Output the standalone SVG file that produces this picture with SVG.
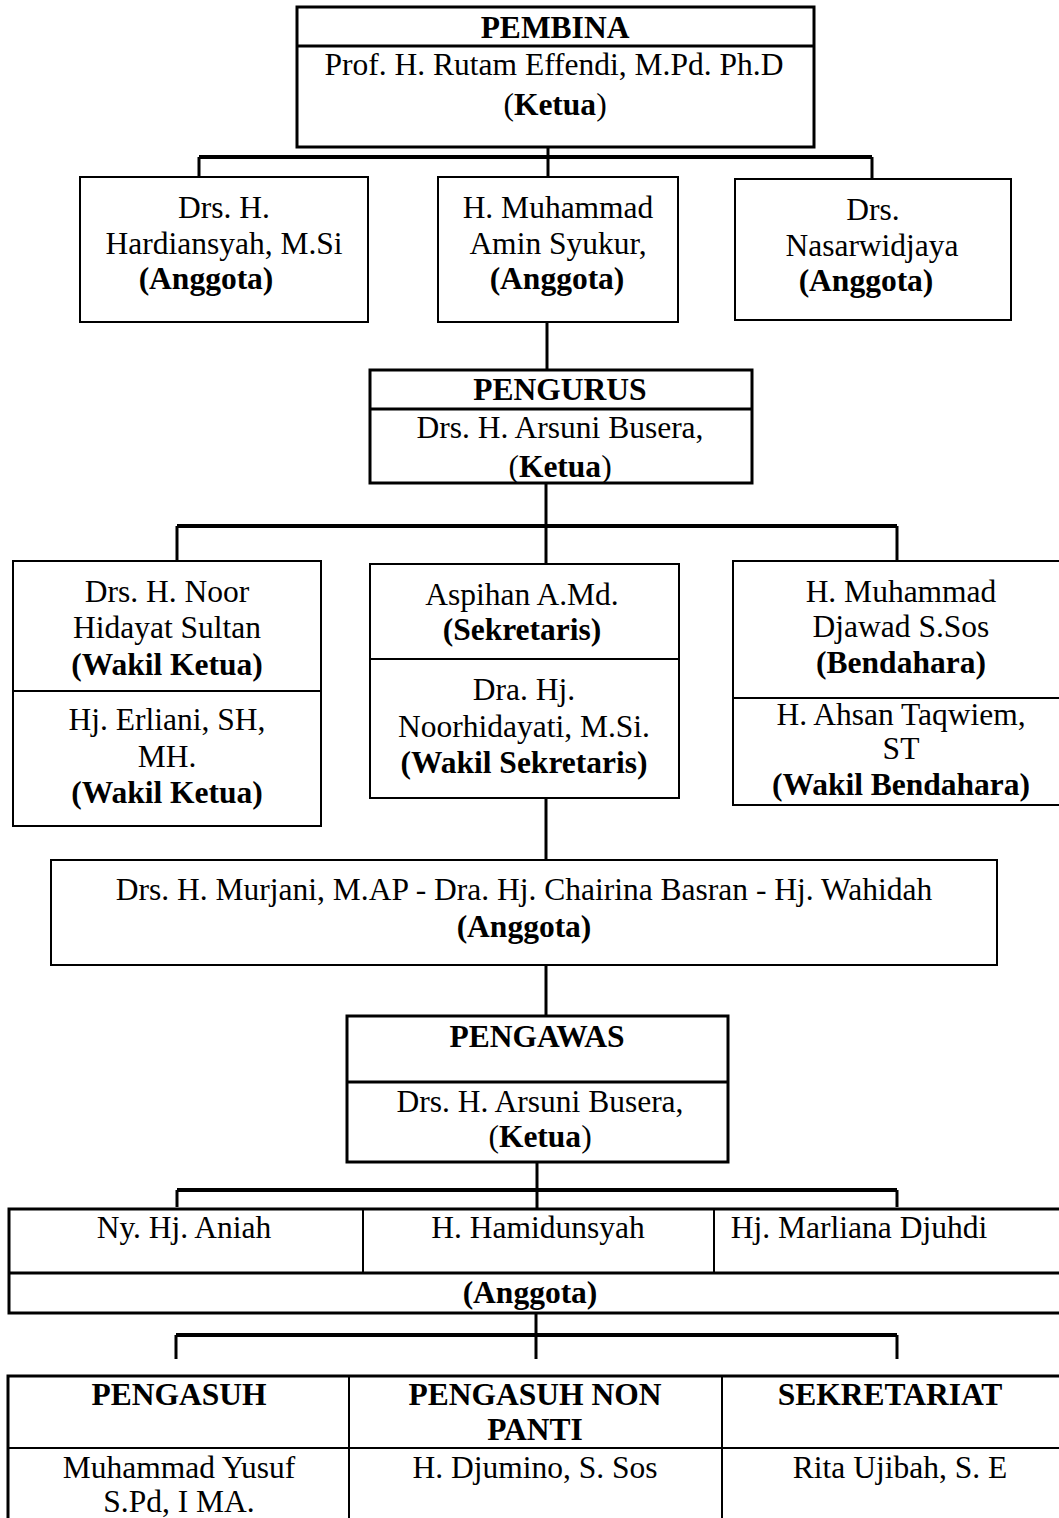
<svg xmlns="http://www.w3.org/2000/svg" width="1059" height="1518" viewBox="0 0 1059 1518">
<style>
text{font-family:"Liberation Serif","Times New Roman",serif;font-size:31.5px;fill:#000;text-anchor:middle}
.b{font-weight:bold}
.box{fill:#fff;stroke:#000;stroke-width:2}
.tk{fill:#fff;stroke:#000;stroke-width:3}
.dv{stroke:#000;stroke-width:2;fill:none}
.dv3{stroke:#000;stroke-width:3;fill:none}
.ln{stroke:#000;stroke-width:3;fill:none}
.bar{stroke:#000;stroke-width:4;fill:none}
</style>
<rect width="1059" height="1518" fill="#fff"/>
<g id="connectors">
<line class="ln" x1="548" y1="147" x2="548" y2="177"/>
<line class="bar" x1="199" y1="157" x2="872" y2="157"/>
<line class="ln" x1="199" y1="157" x2="199" y2="177"/>
<line class="ln" x1="872" y1="157" x2="872" y2="179"/>
<line class="ln" x1="547" y1="322" x2="547" y2="370"/>
<line class="ln" x1="546" y1="483" x2="546" y2="564"/>
<line class="bar" x1="177" y1="526" x2="897" y2="526"/>
<line class="ln" x1="177" y1="526" x2="177" y2="561"/>
<line class="ln" x1="897" y1="526" x2="897" y2="561"/>
<line class="ln" x1="546" y1="798" x2="546" y2="860"/>
<line class="ln" x1="546" y1="965" x2="546" y2="1016"/>
<line class="ln" x1="537" y1="1162" x2="537" y2="1209"/>
<line class="bar" x1="177" y1="1190" x2="897" y2="1190"/>
<line class="ln" x1="177" y1="1190" x2="177" y2="1207"/>
<line class="ln" x1="897" y1="1190" x2="897" y2="1207"/>
<line class="ln" x1="536" y1="1313" x2="536" y2="1359"/>
<line class="bar" x1="176" y1="1335" x2="897" y2="1335"/>
<line class="ln" x1="176" y1="1335" x2="176" y2="1359"/>
<line class="ln" x1="897" y1="1335" x2="897" y2="1359"/>
</g>
<g id="pembina">
<rect class="tk" x="297" y="7" width="517" height="140"/>
<line class="dv3" x1="297" y1="46" x2="814" y2="46"/>
<text class="b" x="555" y="38">PEMBINA</text>
<text x="554" y="75">Prof. H. Rutam Effendi, M.Pd. Ph.D</text>
<text x="555" y="115">(<tspan class="b">Ketua</tspan>)</text>
</g>
<g id="anggota-pembina-1">
<rect class="box" x="80" y="177" width="288" height="145"/>
<text x="224" y="218">Drs. H.</text>
<text x="224" y="254">Hardiansyah, M.Si</text>
<text class="b" x="206" y="289">(Anggota)</text>
</g>
<g id="anggota-pembina-2">
<rect class="box" x="438" y="177" width="240" height="145"/>
<text x="558" y="218">H. Muhammad</text>
<text x="558" y="254">Amin Syukur,</text>
<text class="b" x="557" y="289">(Anggota)</text>
</g>
<g id="anggota-pembina-3">
<rect class="box" x="735" y="179" width="276" height="141"/>
<text x="873" y="220">Drs.</text>
<text x="872" y="256">Nasarwidjaya</text>
<text class="b" x="866" y="291">(Anggota)</text>
</g>
<g id="pengurus">
<rect class="tk" x="370" y="370" width="382" height="113"/>
<line class="dv3" x1="370" y1="409" x2="752" y2="409"/>
<text class="b" x="560" y="400">PENGURUS</text>
<text x="560" y="438">Drs. H. Arsuni Busera,</text>
<text x="560" y="477">(<tspan class="b">Ketua</tspan>)</text>
</g>
<g id="wakil-ketua">
<rect class="box" x="13" y="561" width="308" height="265"/>
<line class="dv" x1="13" y1="691" x2="321" y2="691"/>
<text x="167" y="602">Drs. H. Noor</text>
<text x="167" y="638">Hidayat Sultan</text>
<text class="b" x="167" y="675">(Wakil Ketua)</text>
<text x="167" y="730">Hj. Erliani, SH,</text>
<text x="167" y="767">MH.</text>
<text class="b" x="167" y="803">(Wakil Ketua)</text>
</g>
<g id="sekretaris">
<rect class="box" x="370" y="564" width="309" height="234"/>
<line class="dv" x1="370" y1="659" x2="679" y2="659"/>
<text x="522" y="605">Aspihan A.Md.</text>
<text class="b" x="522" y="640">(Sekretaris)</text>
<text x="524" y="700">Dra. Hj.</text>
<text x="524" y="737">Noorhidayati, M.Si.</text>
<text class="b" x="524" y="773">(Wakil Sekretaris)</text>
</g>
<g id="bendahara">
<rect class="box" x="733" y="561" width="336" height="244"/>
<line class="dv" x1="733" y1="698" x2="1069" y2="698"/>
<text x="901" y="602">H. Muhammad</text>
<text x="901" y="637">Djawad S.Sos</text>
<text class="b" x="901" y="673">(Bendahara)</text>
<text x="901" y="725">H. Ahsan Taqwiem,</text>
<text x="901" y="759">ST</text>
<text class="b" x="901" y="795">(Wakil Bendahara)</text>
</g>
<g id="anggota-pengurus">
<rect class="box" x="51" y="860" width="946" height="105"/>
<text x="524" y="900">Drs. H. Murjani, M.AP - Dra. Hj. Chairina Basran - Hj. Wahidah</text>
<text class="b" x="524" y="937">(Anggota)</text>
</g>
<g id="pengawas">
<rect class="tk" x="347" y="1016" width="381" height="146"/>
<line class="dv3" x1="347" y1="1082" x2="728" y2="1082"/>
<text class="b" x="537" y="1047">PENGAWAS</text>
<text x="540" y="1112">Drs. H. Arsuni Busera,</text>
<text x="540" y="1147">(<tspan class="b">Ketua</tspan>)</text>
</g>
<g id="anggota-pengawas">
<rect class="tk" x="9" y="1209" width="1062" height="104"/>
<line class="dv3" x1="9" y1="1273" x2="1071" y2="1273"/>
<line class="dv" x1="363" y1="1209" x2="363" y2="1273"/>
<line class="dv" x1="714" y1="1209" x2="714" y2="1273"/>
<text x="184" y="1238">Ny. Hj. Aniah</text>
<text x="538" y="1238">H. Hamidunsyah</text>
<text x="859" y="1238">Hj. Marliana Djuhdi</text>
<text class="b" x="530" y="1303">(Anggota)</text>
</g>
<g id="pelaksana">
<rect class="tk" x="8" y="1376" width="1063" height="160"/>
<line class="dv" x1="8" y1="1448" x2="1071" y2="1448"/>
<line class="dv" x1="349" y1="1376" x2="349" y2="1536"/>
<line class="dv" x1="722" y1="1376" x2="722" y2="1536"/>
<text class="b" x="179" y="1405">PENGASUH</text>
<text class="b" x="535" y="1405">PENGASUH NON</text>
<text class="b" x="535" y="1440">PANTI</text>
<text class="b" x="890" y="1405">SEKRETARIAT</text>
<text x="179" y="1478">Muhammad Yusuf</text>
<text x="179" y="1512">S.Pd, I MA.</text>
<text x="535" y="1478">H. Djumino, S. Sos</text>
<text x="900" y="1478">Rita Ujibah, S. E</text>
</g>
</svg>
